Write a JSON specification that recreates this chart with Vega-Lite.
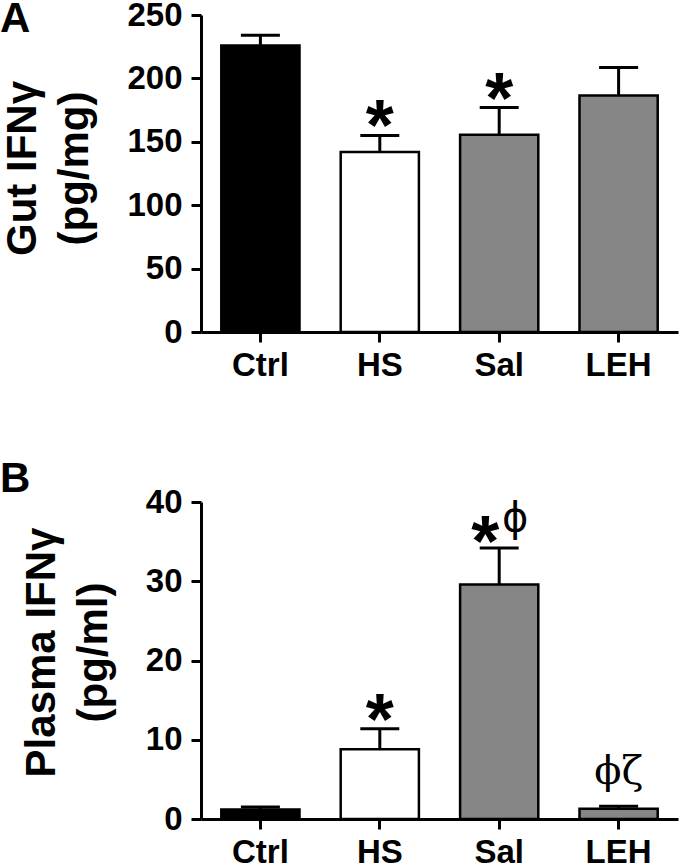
{
  "$schema": "https://vega.github.io/schema/vega-lite/v6.json",
  "background": "white",
  "padding": {"left": 0, "top": -2, "right": 2, "bottom": 0},
  "spacing": 76,
  "config": {
    "view": {"stroke": null},
    "font": "Liberation Sans",
    "axis": {
      "grid": false,
      "domainColor": "black",
      "domainWidth": 3,
      "tickColor": "black",
      "tickWidth": 3,
      "tickSize": 10,
      "labelFont": "Liberation Sans",
      "labelFontWeight": "bold",
      "labelFontSize": 33,
      "labelColor": "black",
      "titleFont": "Liberation Sans",
      "titleFontWeight": "bold",
      "titleFontSize": 42,
      "titleColor": "black",
      "titleLineHeight": 52
    },
    "title": {
      "font": "Liberation Sans",
      "fontWeight": "bold",
      "fontSize": 42,
      "color": "black",
      "anchor": "start",
      "frame": "group"
    }
  },
  "datasets": {
    "gut": [
      {"group": "Ctrl", "mean": 226, "errTop": 234, "star": ""},
      {"group": "HS", "mean": 142, "errTop": 155, "star": "*"},
      {"group": "Sal", "mean": 155.5, "errTop": 177, "star": "*"},
      {"group": "LEH", "mean": 186.5, "errTop": 208.5, "star": ""}
    ],
    "plasma": [
      {"group": "Ctrl", "mean": 1.2, "errTop": 1.5, "star": "", "greek": ""},
      {"group": "HS", "mean": 8.8, "errTop": 11.4, "star": "*", "greek": ""},
      {"group": "Sal", "mean": 29.6, "errTop": 34.2, "star": "*", "greek": "ϕ"},
      {"group": "LEH", "mean": 1.3, "errTop": 1.6, "star": "", "greek": "ϕζ"}
    ]
  },
  "vconcat": [
    {
      "width": 477,
      "height": 317,
      "title": {"text": "A", "dx": -201, "offset": -42},
      "data": {"name": "gut"},
      "encoding": {
        "x": {
          "field": "group", "type": "nominal", "sort": null,
          "scale": {"paddingInner": 0.345, "paddingOuter": 0.17},
          "axis": {"labelAngle": 0, "title": null, "labelPadding": 7}
        }
      },
      "layer": [
        {
          "mark": {"type": "bar", "stroke": "black", "strokeWidth": 2.5},
          "encoding": {
            "y": {
              "field": "mean", "type": "quantitative",
              "scale": {"domain": [0, 250], "nice": false},
              "axis": {"values": [0, 50, 100, 150, 200, 250], "title": ["Gut IFNγ", "(pg/mg)"], "labelPadding": 9, "titlePadding": 30, "titleY": 153}
            },
            "color": {
              "field": "group", "type": "nominal", "legend": null,
              "scale": {"domain": ["Ctrl", "HS", "Sal", "LEH"], "range": ["#000000", "#ffffff", "#868686", "#868686"]}
            }
          }
        },
        {
          "mark": {"type": "rule", "color": "black", "strokeWidth": 3},
          "encoding": {
            "y": {"field": "mean", "type": "quantitative", "scale": {"domain": [0, 250], "nice": false},
              "axis": {"values": [0, 50, 100, 150, 200, 250], "title": ["Gut IFNγ", "(pg/mg)"], "labelPadding": 9, "titlePadding": 30, "titleY": 153}},
            "y2": {"field": "errTop"}
          }
        },
        {
          "mark": {"type": "tick", "color": "black", "opacity": 1, "thickness": 3, "size": 39},
          "encoding": {
            "y": {"field": "errTop", "type": "quantitative", "scale": {"domain": [0, 250], "nice": false},
              "axis": {"values": [0, 50, 100, 150, 200, 250], "title": ["Gut IFNγ", "(pg/mg)"], "labelPadding": 9, "titlePadding": 30, "titleY": 153}}
          }
        },
        {
          "transform": [{"filter": "datum.star != ''"}],
          "mark": {"type": "text", "font": "Liberation Sans", "fontWeight": "bold", "fontSize": 72, "baseline": "alphabetic", "dy": 15, "color": "black"},
          "encoding": {
            "y": {"field": "errTop", "type": "quantitative", "scale": {"domain": [0, 250], "nice": false},
              "axis": {"values": [0, 50, 100, 150, 200, 250], "title": ["Gut IFNγ", "(pg/mg)"], "labelPadding": 9, "titlePadding": 30, "titleY": 153}},
            "text": {"field": "star"}
          }
        }
      ]
    },
    {
      "width": 477,
      "height": 317,
      "title": {"text": "B", "dx": -201, "offset": -15},
      "data": {"name": "plasma"},
      "encoding": {
        "x": {
          "field": "group", "type": "nominal", "sort": null,
          "scale": {"paddingInner": 0.345, "paddingOuter": 0.17},
          "axis": {"labelAngle": 0, "title": null, "labelPadding": 7}
        }
      },
      "layer": [
        {
          "mark": {"type": "bar", "stroke": "black", "strokeWidth": 2.5},
          "encoding": {
            "y": {
              "field": "mean", "type": "quantitative",
              "scale": {"domain": [0, 40], "nice": false},
              "axis": {"values": [0, 10, 20, 30, 40], "title": ["Plasma IFNγ", "(pg/ml)"], "labelPadding": 9, "titlePadding": 30, "titleY": 150}
            },
            "color": {
              "field": "group", "type": "nominal", "legend": null,
              "scale": {"domain": ["Ctrl", "HS", "Sal", "LEH"], "range": ["#000000", "#ffffff", "#868686", "#868686"]}
            }
          }
        },
        {
          "mark": {"type": "rule", "color": "black", "strokeWidth": 3},
          "encoding": {
            "y": {"field": "mean", "type": "quantitative", "scale": {"domain": [0, 40], "nice": false},
              "axis": {"values": [0, 10, 20, 30, 40], "title": ["Plasma IFNγ", "(pg/ml)"], "labelPadding": 9, "titlePadding": 30, "titleY": 150}},
            "y2": {"field": "errTop"}
          }
        },
        {
          "mark": {"type": "tick", "color": "black", "opacity": 1, "thickness": 3, "size": 39},
          "encoding": {
            "y": {"field": "errTop", "type": "quantitative", "scale": {"domain": [0, 40], "nice": false},
              "axis": {"values": [0, 10, 20, 30, 40], "title": ["Plasma IFNγ", "(pg/ml)"], "labelPadding": 9, "titlePadding": 30, "titleY": 150}}
          }
        },
        {
          "transform": [{"filter": "datum.group == 'HS'"}],
          "mark": {"type": "text", "font": "Liberation Sans", "fontWeight": "bold", "fontSize": 72, "baseline": "alphabetic", "dy": 15, "color": "black"},
          "encoding": {
            "y": {"field": "errTop", "type": "quantitative", "scale": {"domain": [0, 40], "nice": false},
              "axis": {"values": [0, 10, 20, 30, 40], "title": ["Plasma IFNγ", "(pg/ml)"], "labelPadding": 9, "titlePadding": 30, "titleY": 150}},
            "text": {"field": "star"}
          }
        },
        {
          "transform": [{"filter": "datum.group == 'Sal'"}],
          "mark": {"type": "text", "font": "Liberation Sans", "fontWeight": "bold", "fontSize": 72, "baseline": "alphabetic", "dy": 18, "dx": -14, "color": "black"},
          "encoding": {
            "y": {"field": "errTop", "type": "quantitative", "scale": {"domain": [0, 40], "nice": false},
              "axis": {"values": [0, 10, 20, 30, 40], "title": ["Plasma IFNγ", "(pg/ml)"], "labelPadding": 9, "titlePadding": 30, "titleY": 150}},
            "text": {"field": "star"}
          }
        },
        {
          "transform": [{"filter": "datum.group == 'Sal'"}],
          "mark": {"type": "text", "font": "DejaVu Sans", "fontSize": 40, "baseline": "alphabetic", "dy": -17, "dx": 16, "color": "black"},
          "encoding": {
            "y": {"field": "errTop", "type": "quantitative", "scale": {"domain": [0, 40], "nice": false},
              "axis": {"values": [0, 10, 20, 30, 40], "title": ["Plasma IFNγ", "(pg/ml)"], "labelPadding": 9, "titlePadding": 30, "titleY": 150}},
            "text": {"field": "greek"}
          }
        },
        {
          "transform": [{"filter": "datum.group == 'LEH'"}],
          "mark": {"type": "text", "font": "DejaVu Serif", "fontSize": 40, "baseline": "alphabetic", "dy": -22, "color": "black"},
          "encoding": {
            "y": {"field": "errTop", "type": "quantitative", "scale": {"domain": [0, 40], "nice": false},
              "axis": {"values": [0, 10, 20, 30, 40], "title": ["Plasma IFNγ", "(pg/ml)"], "labelPadding": 9, "titlePadding": 30, "titleY": 150}},
            "text": {"field": "greek"}
          }
        }
      ]
    }
  ]
}
